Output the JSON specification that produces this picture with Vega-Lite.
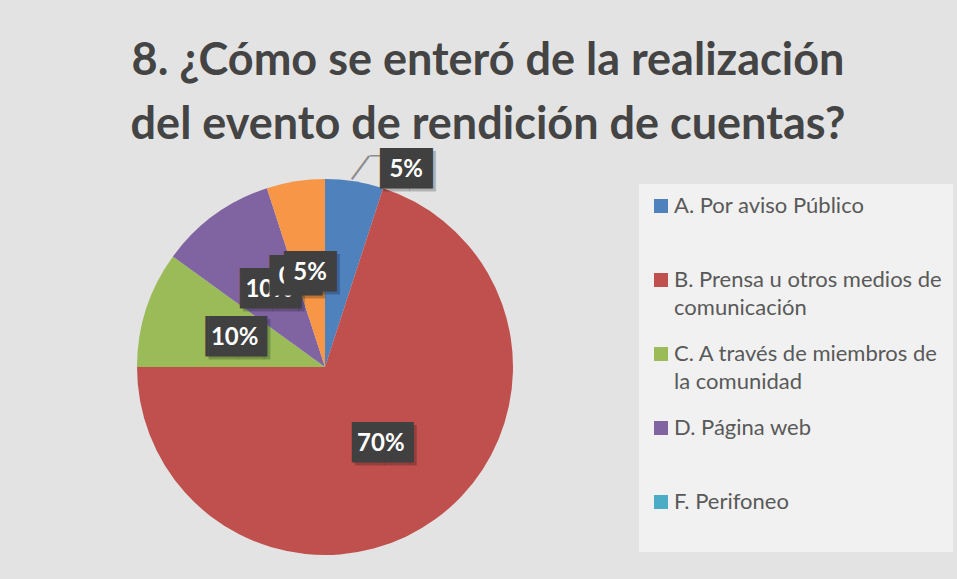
{
  "$schema": "https://vega.github.io/schema/vega-lite/v6.json",
  "autosize": "none",
  "width": 376,
  "height": 376,
  "padding": {"left": 137, "top": 179, "right": 444, "bottom": 24},
  "background": "#e3e3e3",
  "config": {"view": {"stroke": null}},
  "title": {
    "text": ["8. ¿Cómo se enteró de la realización", "del evento de rendición de cuentas?"],
    "font": "Lato",
    "fontSize": 45,
    "fontWeight": "bold",
    "color": "#444444",
    "lineHeight": 64,
    "anchor": "middle",
    "dx": 163,
    "dy": 14
  },
  "data": {
    "values": [
      {"category": "A. Por aviso Público", "value": 5, "label": "5%"},
      {"category": "B. Prensa u otros medios de comunicación", "value": 70, "label": "70%"},
      {"category": "C. A través de miembros de la comunidad", "value": 10, "label": "10%"},
      {"category": "D. Página web", "value": 10, "label": "10%"},
      {"category": "F. Perifoneo", "value": 0, "label": "0%"},
      {"category": "E", "value": 5, "label": "5%"}
    ]
  },
  "transform": [{"window": [{"op": "row_number", "as": "idx"}]}],
  "encoding": {
    "theta": {"field": "value", "type": "quantitative", "stack": true},
    "order": {"field": "idx", "type": "quantitative"}
  },
  "layer": [
    {
      "mark": {"type": "arc", "outerRadius": 188},
      "encoding": {
        "color": {
          "field": "category",
          "type": "nominal",
          "scale": {
            "domain": ["A. Por aviso Público", "B. Prensa u otros medios de comunicación", "C. A través de miembros de la comunidad", "D. Página web", "F. Perifoneo", "E"],
            "range": ["#4f81bd", "#c0504d", "#9bbb59", "#8064a2", "#4bacc6", "#f79646"]
          },
          "legend": {
            "orient": "none",
            "legendX": 502,
            "legendY": 5,
            "title": null,
            "values": ["A. Por aviso Público", "B. Prensa u otros medios de comunicación", "C. A través de miembros de la comunidad", "D. Página web", "F. Perifoneo"],
            "symbolType": "square",
            "symbolSize": 196,
            "symbolStrokeWidth": 0,
            "labelFont": "Lato",
            "labelFontSize": 22,
            "labelColor": "#595959",
            "labelLimit": 0,
            "labelOffset": 2,
            "labelExpr": "datum.label == 'B. Prensa u otros medios de comunicación' ? ['B. Prensa u otros medios de', 'comunicación'] : datum.label == 'C. A través de miembros de la comunidad' ? ['C. A través de miembros de', 'la comunidad'] : [datum.label, '']",
            "rowPadding": 24,
            "padding": 11,
            "fillColor": "#f1f1f1",
            "encode": {"labels": {"update": {"lineHeight": {"value": 28}}}}
          }
        }
      }
    },
    {
      "mark": {"type": "text", "radius": 202, "thetaOffset": 0.0244, "angle": -53.5, "font": "DejaVu Sans", "fontSize": 24, "align": "center", "baseline": "middle", "color": "#8c8c8c"},
      "encoding": {"text": {"condition": {"test": "datum.idx == 1", "value": "──"}, "value": ""}, "detail": {"field": "category"}}
    },
    {
      "mark": {"type": "text", "radius": 216, "thetaOffset": 0.0785, "font": "DejaVu Sans", "fontSize": 18, "align": "center", "baseline": "middle", "color": "#8c8c8c"},
      "encoding": {"text": {"condition": {"test": "datum.idx == 1", "value": "─"}, "value": ""}, "detail": {"field": "category"}}
    },
    {
      "mark": {"type": "text", "radius": 213, "thetaOffset": 0.234, "dx": 3, "dy": 3, "font": "DejaVu Sans", "fontSize": 34, "align": "center", "baseline": "middle", "color": "rgba(0,0,0,0.22)"},
      "encoding": {"text": {"condition": {"test": "datum.idx == 1", "value": "██"}, "value": ""}, "detail": {"field": "category"}}
    },
    {
      "mark": {"type": "text", "radius": 213, "thetaOffset": 0.234, "font": "DejaVu Sans", "fontSize": 34, "align": "center", "baseline": "middle", "color": "#404040"},
      "encoding": {"text": {"condition": {"test": "datum.idx == 1", "value": "██"}, "value": ""}, "detail": {"field": "category"}}
    },
    {
      "mark": {"type": "text", "radius": 213, "thetaOffset": 0.234, "font": "Lato", "fontWeight": "bold", "fontSize": 24, "align": "center", "baseline": "middle", "color": "white"},
      "encoding": {"text": {"condition": {"test": "datum.idx == 1", "field": "label"}, "value": ""}, "detail": {"field": "category"}}
    },
    {
      "mark": {"type": "text", "radius": 95, "dx": 3, "dy": 3, "font": "DejaVu Sans", "fontSize": 34, "align": "center", "baseline": "middle", "color": "rgba(0,0,0,0.22)"},
      "encoding": {"text": {"condition": [{"test": "datum.idx == 1", "value": ""}, {"test": "datum.idx >= 5", "value": "██"}], "value": "▕██▎"}, "detail": {"field": "category"}}
    },
    {
      "mark": {"type": "text", "radius": 95, "font": "DejaVu Sans", "fontSize": 34, "align": "center", "baseline": "middle", "color": "#404040"},
      "encoding": {"text": {"condition": {"test": "datum.idx == 2 || datum.idx == 3", "value": "▕██▎"}, "value": ""}, "detail": {"field": "category"}}
    },
    {
      "mark": {"type": "text", "radius": 95, "font": "Lato", "fontWeight": "bold", "fontSize": 24, "align": "center", "baseline": "middle", "color": "white"},
      "encoding": {"text": {"condition": {"test": "datum.idx == 2 || datum.idx == 3", "field": "label"}, "value": ""}, "detail": {"field": "category"}}
    },
    {
      "mark": {"type": "text", "radius": 95, "font": "DejaVu Sans", "fontSize": 34, "align": "center", "baseline": "middle", "color": "#404040"},
      "encoding": {"text": {"condition": {"test": "datum.idx == 4", "value": "▕██▎"}, "value": ""}, "detail": {"field": "category"}}
    },
    {
      "mark": {"type": "text", "radius": 95, "font": "Lato", "fontWeight": "bold", "fontSize": 24, "align": "center", "baseline": "middle", "color": "white"},
      "encoding": {"text": {"condition": {"test": "datum.idx == 4", "field": "label"}, "value": ""}, "detail": {"field": "category"}}
    },
    {
      "mark": {"type": "text", "radius": 95, "font": "DejaVu Sans", "fontSize": 34, "align": "center", "baseline": "middle", "color": "#404040"},
      "encoding": {"text": {"condition": {"test": "datum.idx == 5", "value": "██"}, "value": ""}, "detail": {"field": "category"}}
    },
    {
      "mark": {"type": "text", "radius": 95, "font": "Lato", "fontWeight": "bold", "fontSize": 24, "align": "center", "baseline": "middle", "color": "white"},
      "encoding": {"text": {"condition": {"test": "datum.idx == 5", "field": "label"}, "value": ""}, "detail": {"field": "category"}}
    },
    {
      "mark": {"type": "text", "radius": 95, "font": "DejaVu Sans", "fontSize": 34, "align": "center", "baseline": "middle", "color": "#404040"},
      "encoding": {"text": {"condition": {"test": "datum.idx == 6", "value": "██"}, "value": ""}, "detail": {"field": "category"}}
    },
    {
      "mark": {"type": "text", "radius": 95, "font": "Lato", "fontWeight": "bold", "fontSize": 24, "align": "center", "baseline": "middle", "color": "white"},
      "encoding": {"text": {"condition": {"test": "datum.idx == 6", "field": "label"}, "value": ""}, "detail": {"field": "category"}}
    }
  ]
}
